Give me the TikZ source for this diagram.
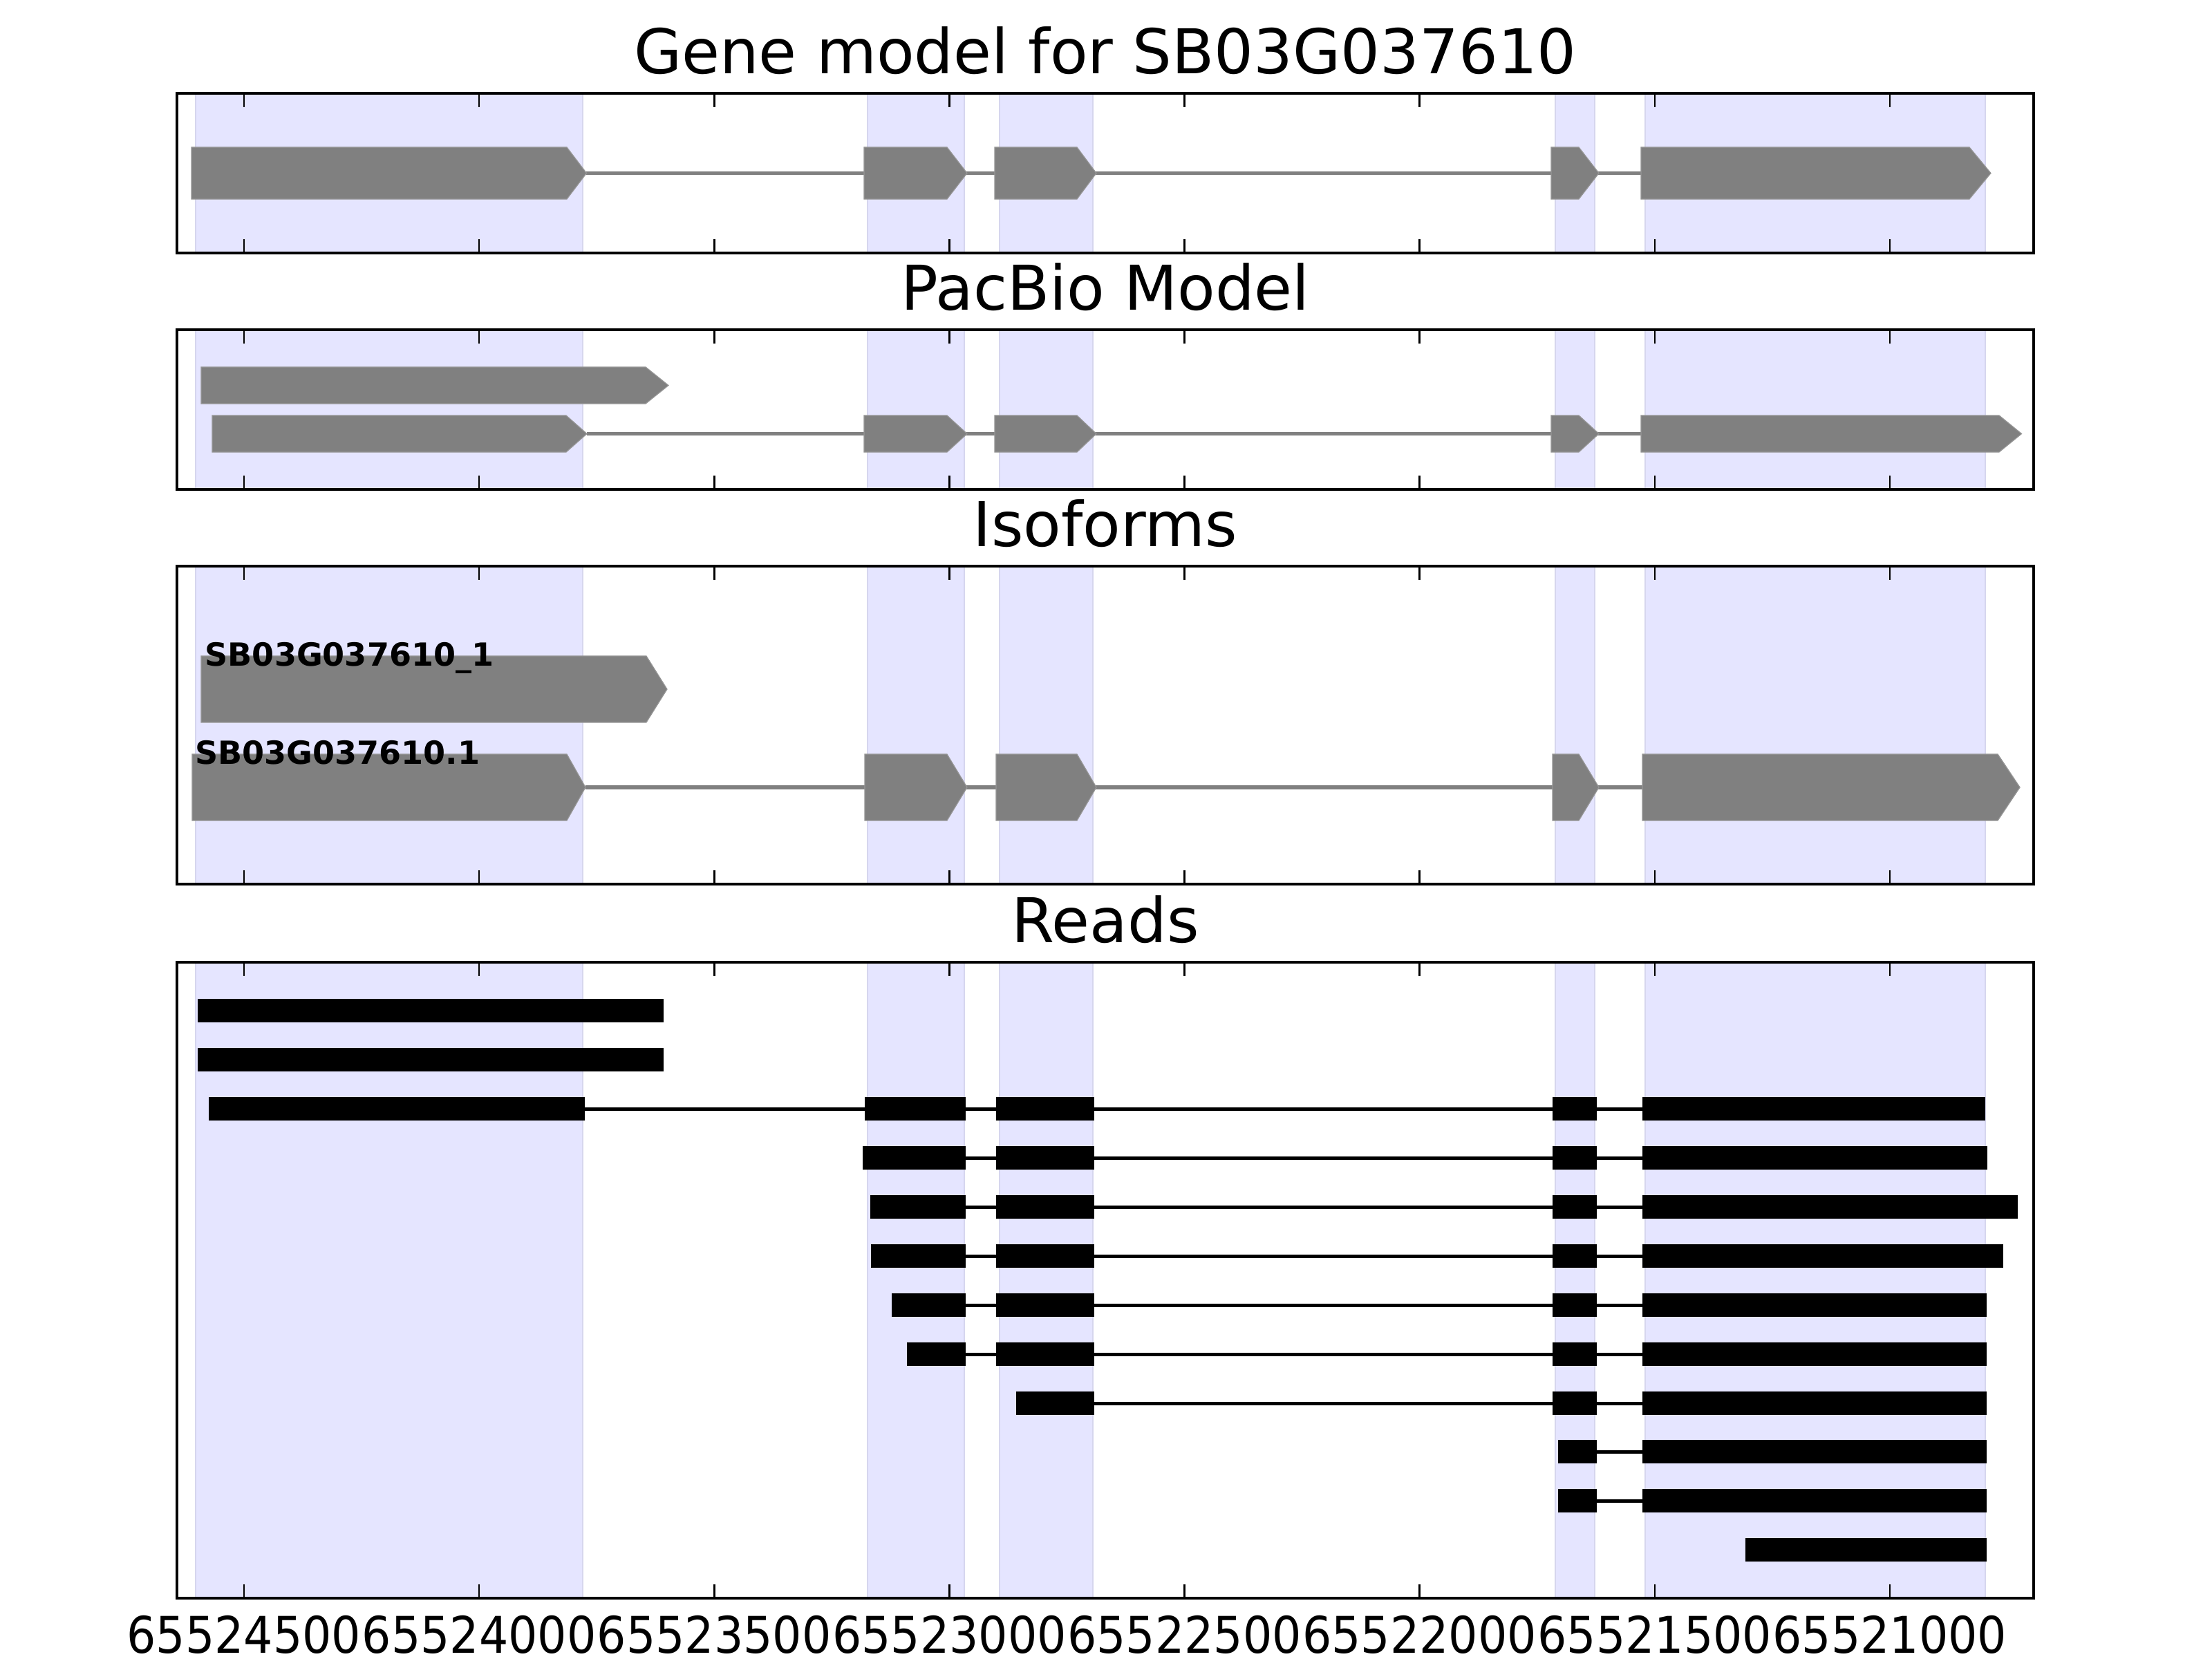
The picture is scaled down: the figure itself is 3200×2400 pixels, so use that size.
\documentclass[tikz,border=0pt]{standalone}
\usepackage{fontspec}
\setmainfont{DejaVu Sans}
\definecolor{shade}{RGB}{229,229,255}
\definecolor{shadeedge}{RGB}{214,214,238}
\definecolor{exongray}{RGB}{128,128,128}
\definecolor{exonedge}{RGB}{150,150,150}
\newcommand\shadesin[2]{%
  \foreach \a/\b in {283/843,1255/1395,1446/1581,2250/2307,2380/2872}{%
    \filldraw[fill=shade,draw=shadeedge,line width=0.02cm] (\a,#1) rectangle (\b,#2);}}
\newcommand\panelframe[2]{%
  \foreach \t in {353,693.1,1033.3,1373.4,1713.6,2053.7,2393.8,2734}{%
    \draw[line width=0.025cm] (\t,#1) -- ++(0,20);
    \draw[line width=0.025cm] (\t,#2) -- ++(0,-20);}
  \draw[line width=0.045cm] (256,#1) rectangle (2942,#2);}
\newcommand\exonshape[5]{%
  \filldraw[fill=exongray,draw=exonedge,line width=0.012cm]
    (#1,#4) -- (#2,#4) -- (#3,{(#4+#5)/2}) -- (#2,#5) -- (#1,#5) -- cycle;}
\newcommand\rdbar[3]{\fill[black] (#1,{#3-17}) rectangle (#2,{#3+17});}
\newcommand\rdline[3]{\draw[black,line width=0.05cm] (#1,#3) -- (#2,#3);}
\tikzset{
  ptitle/.style={anchor=base,inner sep=0pt,font=\fontsize{25.4pt}{30pt}\selectfont},
  ticklbl/.style={anchor=base,inner sep=0pt,font=\fontsize{20.8pt}{24pt}\selectfont},
  isolbl/.style={anchor=base west,inner sep=0pt,font=\bfseries\fontsize{13.1pt}{15pt}\selectfont},
  intron/.style={exongray,line width=0.055cm}
}
\begin{document}
\begin{tikzpicture}[x=0.01cm,y=-0.01cm]
\fill[white] (0,0) rectangle (3200,2400);
\useasboundingbox (0,0) rectangle (3200,2400);

% ---------- Panel 1: Gene model ----------
\shadesin{135}{366}
\draw[intron] (848,250.5) -- (2374,250.5);
\exonshape{277}{820}{848.5}{213}{288}
\exonshape{1250}{1370}{1399}{213}{288}
\exonshape{1439}{1558}{1586}{213}{288}
\exonshape{2244}{2284}{2313}{213}{288}
\exonshape{2374}{2849}{2880}{213}{288}
\panelframe{135}{366}
\node[ptitle] (t1) at (1599,107) {Gene model for SB03G037610};

% ---------- Panel 2: PacBio ----------
\shadesin{477}{708}
\exonshape{291}{934}{967}{531}{584}
\draw[intron] (849,627.5) -- (2374,627.5);
\exonshape{307}{819}{849}{601}{654}
\exonshape{1250}{1370}{1399}{601}{654}
\exonshape{1439}{1558}{1586}{601}{654}
\exonshape{2244}{2284}{2313}{601}{654}
\exonshape{2374}{2892}{2924.5}{601}{654}
\panelframe{477}{708}
\node[ptitle] (t2) at (1599,448.5) {PacBio Model};

% ---------- Panel 3: Isoforms ----------
\shadesin{819}{1279}
\exonshape{291}{935}{965}{949}{1045}
\draw[intron] (847,1139) -- (2376,1139);
\exonshape{278}{820}{847}{1091}{1187}
\exonshape{1251}{1370}{1399}{1091}{1187}
\exonshape{1441}{1558}{1586}{1091}{1187}
\exonshape{2246}{2284}{2313}{1091}{1187}
\exonshape{2376}{2890}{2922}{1091}{1187}
\node[isolbl] (l1) at (296,963) {SB03G037610\_1};
\node[isolbl] (l2) at (281.5,1105) {SB03G037610.1};
\panelframe{819}{1279}
\node[ptitle] (t3) at (1599,790.5) {Isoforms};

% ---------- Panel 4: Reads ----------
\shadesin{1392}{2312}
% row 1,2
\rdbar{286}{960}{1462}
\rdbar{286}{960}{1533}
% row 3
\rdline{846}{2376}{1604}
\rdbar{302}{846}{1604}
\rdbar{1251}{1397}{1604}
\rdbar{1441}{1583}{1604}
\rdbar{2246}{2310}{1604}
\rdbar{2376}{2872}{1604}
% rows 4-8
\foreach \s/\e/\y in {1248/2875/1675,1259/2919/1746,1260/2898/1817,1290/2874/1888,1312/2874/1959}{
  \rdline{1397}{2376}{\y}
  \rdbar{\s}{1397}{\y}
  \rdbar{1441}{1583}{\y}
  \rdbar{2246}{2310}{\y}
  \rdbar{2376}{\e}{\y}
}
% row 9
\rdline{1583}{2376}{2030}
\rdbar{1470}{1583}{2030}
\rdbar{2246}{2310}{2030}
\rdbar{2376}{2874}{2030}
% rows 10,11
\foreach \y in {2100,2171}{
  \rdline{2310}{2376}{\y}
  \rdbar{2254}{2310}{\y}
  \rdbar{2376}{2874}{\y}
}
% row 12
\rdbar{2525}{2874}{2242}
\panelframe{1392}{2312}
\node[ptitle] (t4) at (1599,1363) {Reads};

% ---------- x tick labels ----------
\foreach \t/\lbl [count=\i] in {353/65524500,693.1/65524000,1033.3/65523500,1373.4/65523000,1713.6/65522500,2053.7/65522000,2393.8/65521500,2734/65521000}{
  \node[ticklbl] (xl\i) at (\t,2391) {\scalebox{0.91}[1]{\lbl}};
}
\end{tikzpicture}
\end{document}
